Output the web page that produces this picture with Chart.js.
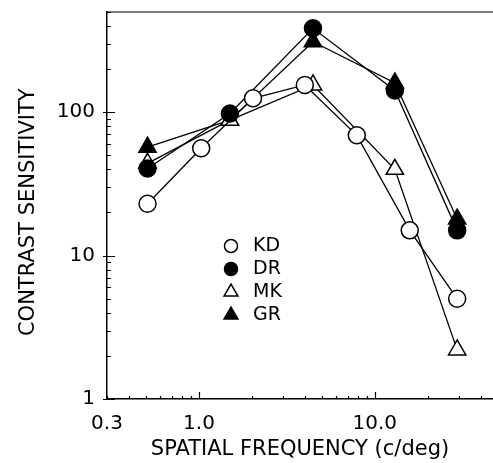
<!DOCTYPE html>
<html>
<head>
<meta charset="utf-8">
<script src="https://cdn.jsdelivr.net/npm/chart.js@4/dist/chart.umd.min.js"></script>
<style>
  body { margin: 0; background: #fff; }
  #wrap { width: 493px; height: 463px; }
</style>
</head>
<body>
<div id="wrap"><canvas id="myChart"></canvas></div>
<script>
// 데이터
var kdFreq = [0.51, 1.03, 2.03, 4.0, 7.9, 15.8, 29.4];
var kdSens = [23, 56, 125, 155, 69, 15, 5.0];

var drFreq = [0.51, 1.5, 4.45, 13, 29.4];
var drSens = [40.5, 98, 385, 142, 15];

var mkFreq = [0.51, 1.5, 4.45, 13, 29.4];
var mkSens = [44, 88, 155, 40, 2.2];

var grFreq = [0.51, 1.5, 4.45, 13, 29.4];
var grSens = [57, 88, 310, 160, 18];

var seriesNames = ['KD', 'DR', 'MK', 'GR'];

var xTickValues = [0.3, 1, 10];
var xTickLabels = ['0.3', '1.0', '10.0'];
var yTickValues = [1, 10, 100];
var yTickLabels = ['1', '10', '100'];

function toPoints(xs, ys) {
  return xs.map(function (x, i) { return { x: x, y: ys[i] }; });
}

Chart.defaults.font.family = 'DejaVu Sans';
Chart.defaults.color = '#000';

// 축 안쪽 눈금 + 위쪽 테두리
var tickPlugin = {
  id: 'innerTicks',
  beforeDatasetsDraw: function (chart) {
    var ctx = chart.ctx, a = chart.chartArea;
    var xs = chart.scales.x, ys = chart.scales.y;
    ctx.save();
    ctx.strokeStyle = '#000';
    ctx.lineWidth = 1.2;
    ctx.beginPath();
    // 위쪽 테두리
    ctx.moveTo(a.left, a.top);
    ctx.lineTo(a.right, a.top);
    // y축 눈금
    for (var d = 1; d <= 100; d *= 10) {
      for (var m = 1; m <= 9; m++) {
        var v = d * m;
        if (v > ys.max) break;
        var py = Math.round(ys.getPixelForValue(v)) + 0.5;
        var major = (m === 1);
        ctx.moveTo(a.left - (major ? 4 : 0), py);
        ctx.lineTo(a.left + (major ? 8 : 4), py);
      }
    }
    // x축 눈금
    for (var dx = 0.1; dx <= 10; dx *= 10) {
      for (var k = 1; k <= 9; k++) {
        var vx = dx * k;
        if (vx < xs.min - 1e-9 || vx > xs.max) continue;
        var px = Math.round(xs.getPixelForValue(vx)) + 0.5;
        var maj = (k === 1);
        ctx.moveTo(px, a.bottom);
        ctx.lineTo(px, a.bottom - (maj ? 7 : 3));
      }
    }
    ctx.stroke();
    ctx.restore();
  },
  afterDraw: function (chart) {
    // 범례 (차트 안쪽)
    var ctx = chart.ctx;
    var symX = 231, textX = 253, y0 = 246, step = 23;
    ctx.save();
    ctx.font = '19px "DejaVu Sans"';
    ctx.textBaseline = 'middle';
    ctx.textAlign = 'left';
    chart.data.datasets.forEach(function (ds, i) {
      var y = y0 + i * step;
      ctx.beginPath();
      ctx.lineWidth = 1.5;
      ctx.strokeStyle = '#000';
      ctx.fillStyle = ds.pointBackgroundColor;
      if (ds.pointStyle === 'circle') {
        ctx.arc(symX, y, 6.5, 0, Math.PI * 2);
      } else {
        var r = 8;
        ctx.moveTo(symX, y - r);
        ctx.lineTo(symX + r * 0.866, y + r * 0.5);
        ctx.lineTo(symX - r * 0.866, y + r * 0.5);
        ctx.closePath();
      }
      ctx.fill();
      ctx.stroke();
      ctx.fillStyle = '#000';
      ctx.fillText(ds.label, textX, y);
    });
    ctx.restore();
  }
};

function lineSet(name, pts, style, filled, r) {
  return {
    label: name,
    data: pts,
    showLine: true,
    fill: false,
    tension: 0,
    borderColor: '#000',
    borderWidth: 1.3,
    pointStyle: style,
    pointRadius: r,
    pointHoverRadius: r,
    pointBorderWidth: 1.5,
    pointBorderColor: '#000',
    pointBackgroundColor: filled ? '#000' : '#fff'
  };
}

function noPad(axis) {
  axis.paddingTop = 0;
  axis.paddingBottom = 0;
  axis.paddingLeft = 0;
  axis.paddingRight = 0;
}

new Chart(document.getElementById('myChart'), {
  type: 'scatter',
  data: {
    datasets: [
      lineSet(seriesNames[0], toPoints(kdFreq, kdSens), 'circle', false, 8.5),
      lineSet(seriesNames[1], toPoints(drFreq, drSens), 'circle', true, 8.5),
      lineSet(seriesNames[2], toPoints(mkFreq, mkSens), 'triangle', false, 10),
      lineSet(seriesNames[3], toPoints(grFreq, grSens), 'triangle', true, 10)
    ]
  },
  options: {
    responsive: true,
    maintainAspectRatio: false,
    animation: false,
    layout: { autoPadding: false, padding: { top: 12, right: 0, left: 0, bottom: 0 } },
    plugins: {
      legend: { display: false },
      tooltip: { enabled: false }
    },
    scales: {
      x: {
        type: 'logarithmic',
        min: 0.3,
        max: 47,
        grid: { display: false, drawTicks: false },
        border: { display: true, color: '#000', width: 1.5 },
        afterBuildTicks: function (axis) {
          axis.ticks = xTickValues.map(function (v) { return { value: v }; });
        },
        afterFit: function (axis) { axis.height = 64; noPad(axis); },
        ticks: {
          autoSkip: false,
          maxRotation: 0,
          padding: 13,
          font: { size: 20 },
          callback: function (value, index) { return xTickLabels[index]; }
        },
        title: {
          display: true,
          text: 'SPATIAL FREQUENCY (c/deg)',
          font: { size: 21 },
          padding: { top: 0, bottom: 1 }
        }
      },
      y: {
        type: 'logarithmic',
        min: 1,
        max: 500,
        grid: { display: false, drawTicks: false },
        border: { display: true, color: '#000', width: 1.5 },
        afterBuildTicks: function (axis) {
          axis.ticks = yTickValues.map(function (v) { return { value: v }; });
        },
        afterFit: function (axis) { axis.width = 107; noPad(axis); },
        ticks: {
          autoSkip: false,
          padding: 12,
          font: { size: 20 },
          callback: function (value, index) { return yTickLabels[index]; }
        },
        title: {
          display: true,
          text: 'CONTRAST SENSITIVITY  ',
          font: { size: 21 },
          padding: { top: 16, bottom: 0 }
        }
      }
    }
  },
  plugins: [tickPlugin]
});
</script>
</body>
</html>
